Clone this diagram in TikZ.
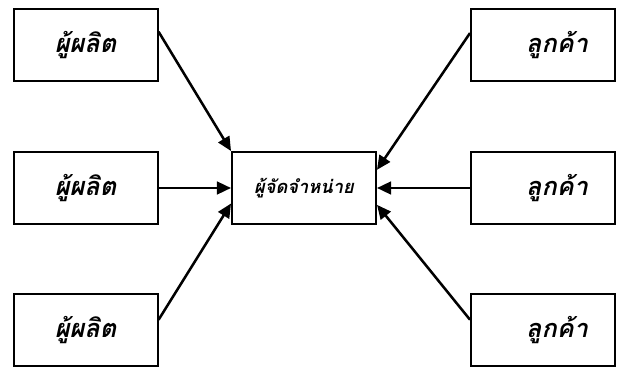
\documentclass[tikz,border=0pt]{standalone}
\usepackage{fontspec}
\newfontfamily\thaifont[Script=Thai]{Loma}
\usepackage{tikz}
\usetikzlibrary{arrows.meta}

\begin{document}
\begin{tikzpicture}[
	box/.style={draw, line width=1.4pt, minimum width=3.6cm, minimum height=1.8cm, inner sep=0pt, font=\thaifont\bfseries\itshape\fontsize{18}{22}\selectfont},
	hub/.style={box, font=\thaifont\bfseries\itshape\fontsize{13}{16}\selectfont},
	client/.style={box, text width=2.25cm, align=right},
	arr/.style={line width=1.8pt, -{Triangle[length=10pt, width=9pt]}}
]
	\useasboundingbox (0, 0) rectangle (15.6, 9.175);
	\node[box] (P1) at (2.14, 8.06) {ผู้ผลิต};
	\node[box] (P2) at (2.14, 4.475) {ผู้ผลิต};
	\node[box] (P3) at (2.14, 0.925) {ผู้ผลิต};
	\node[hub] (D) at (7.6, 4.475) {ผู้จัดจำหน่าย};
	\node[client] (C1) at (13.575, 8.06) {ลูกค้า};
	\node[client] (C2) at (13.575, 4.475) {ลูกค้า};
	\node[client] (C3) at (13.575, 0.925) {ลูกค้า};
	\draw[arr] (P1.10) -- (D.north west);
	\draw[arr] (P2.east) -- (D.west);
	\draw[arr] (P3.8) -- (D.192);
	\draw[arr] (C1.171) -- (D.14);
	\draw[arr] (C2.west) -- (D.east);
	\draw[arr] (C3.172) -- (D.-13);
\end{tikzpicture}
\end{document}
